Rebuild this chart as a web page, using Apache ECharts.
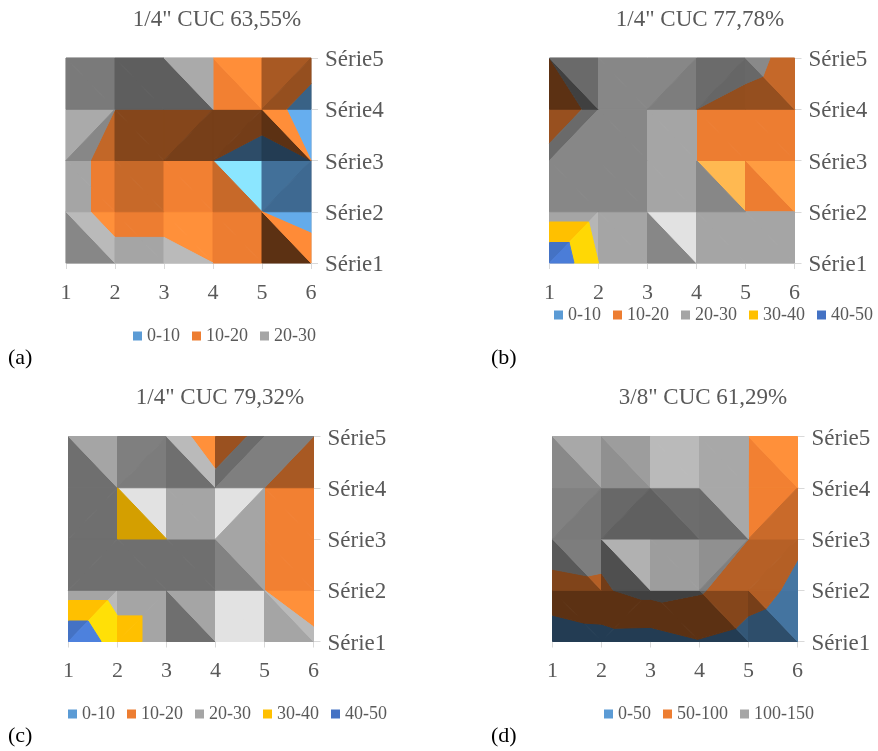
<!DOCTYPE html>
<html>
<head>
<meta charset="utf-8">
<style>
html, body { margin: 0; padding: 0; background: #fff; }
#chart { width: 878px; height: 751px; }
</style>
<script src="https://cdn.jsdelivr.net/npm/echarts@6/dist/echarts.min.js"></script>
</head>
<body>
<div id="chart"></div>
<script>
var xTicks = ['1', '2', '3', '4', '5', '6'];
var serieLabels = ['Série1', 'Série2', 'Série3', 'Série4', 'Série5'];

// valores, uma linha por série (Série1 primeiro)
var zA = [
    [25, 25, 25, 20, 15, 17],
    [25, 15, 15, 15, 10, 5],
    [25, 15, 15, 10, 5, 10],
    [25, 20, 20, 20, 15, 5],
    [25, 25, 25, 20, 15, 15]
];
var zB = [
    [50, 30, 25, 25, 25, 25],
    [25, 25, 25, 25, 20, 20],
    [25, 25, 25, 20, 15, 15],
    [10, 25, 25, 20, 15, 11],
    [20, 25, 25, 25, 25, 15]
];
var zC = [
    [50, 35, 25, 25, 25, 22],
    [25, 25, 25, 25, 20, 15],
    [25, 30, 30, 25, 20, 15],
    [25, 30, 25, 25, 20, 15],
    [25, 25, 29, 11, 25, 20]
];
var zD = [
    [7, 27, 25, 47, 31, 16],
    [91, 95, 116, 105, 69, 40],
    [113, 110, 120, 120, 100, 57],
    [125, 125, 125, 120, 99.9, 100],
    [125, 125, 125, 120, 100, 75]
];

var bandsA = ['0-10', '10-20', '20-30'];
var bandsB = ['0-10', '10-20', '20-30', '30-40', '40-50'];
var bandsC = ['0-10', '10-20', '20-30', '30-40', '40-50'];
var bandsD = ['0-50', '50-100', '100-150'];

// diagonal de cada celula: 0 = "\", 1 = "/"
var diagA = [[0, 0, 0, 0, 0], [0, 0, 0, 0, 1], [1, 0, 1, 1, 0], [0, 0, 0, 0, 1]];
var diagB = [[1, 0, 0, 0, 0], [0, 0, 0, 0, 0], [1, 0, 0, 0, 0], [0, 0, 1, 1, 0]];
var diagC = [[1, 1, 0, 0, 0], [1, 0, 0, 0, 0], [1, 0, 0, 1, 0], [0, 1, 0, 1, 1]];
var diagD = [[0, 1, 0, 0, 0], [0, 0, 0, 1, 1], [1, 1, 0, 0, 1], [0, 0, 0, 0, 0]];

// luz de cada triangulo da celula (o Excel sombreia cada face)
var lightA = [
    [[.82, 1.13], [1, 1], [1.13, 1.13], [1, 1], [.39, 1.1]],
    [[1, 1], [.84, .84], [1.02, 1.02], [.84, 1.42], [.72, .68]],
    [[1.03, .82], [.56, .56], [.56, .5], [.5, .49], [.39, 1.12]],
    [[.74, .74], [.57, .57], [.57, 1.03], [1.02, 1.12], [.71, .63]]
];
var lightB = [
    [[1, 1.1], [1, 1], [.82, 1.37], [1, 1], [1, 1]],
    [[.82, .82], [.82, .82], [1, 1], [.82, 1.37], [1, 1.2]],
    [[.64, .82], [.82, .82], [1, 1], [1, 1], [1, 1]],
    [[.39, .64], [.82, .82], [.82, .76], [.65, .62], [.63, .83]]
];
var lightC = [
    [[1, 1.13], [1, 1], [.67, 1], [1.37, 1.37], [1, 1.13]],
    [[.67, .67], [.67, .67], [.67, .67], [.79, 1], [1.02, 1.02]],
    [[.67, .67], [.83, 1.37], [1, 1], [1.37, 1], [1.02, 1.02]],
    [[.67, 1], [.77, .75], [.67, 1.13], [.65, .77], [.77, .71]]
];
var lightD = [
    [[.39, .39], [.39, .39], [.39, .39], [.39, .56], [.5, .75]],
    [[.54, .76], [.48, 1.07], [.95, .95], [.87, .77], [.77, .76]],
    [[.78, .74], [.63, .58], [.58, .66], [.65, 1.02], [1.02, .85]],
    [[.83, 1.02], [.87, .95], [1.13, 1.13], [1.02, 1.02], [1.02, 1.13]]
];

var bandColors = {
    '0-10': '#5B9BD5', '10-20': '#ED7D31', '20-30': '#A5A5A5', '30-40': '#FFC000', '40-50': '#4472C4',
    '0-50': '#5B9BD5', '50-100': '#ED7D31', '100-150': '#A5A5A5'
};

var panels = [
    { title: '1/4" CUC 63,55%', tag: '(a)', z: zA, bands: bandsA, diag: diagA, light: lightA,
      left: 66, top: 58, titleX: 217, titleY: 8, tagX: 8, tagY: 347, legendX: 133, legendY: 327 },
    { title: '1/4" CUC 77,78%', tag: '(b)', z: zB, bands: bandsB, diag: diagB, light: lightB,
      left: 549.5, top: 58, titleX: 700, titleY: 8, tagX: 491, tagY: 347, legendX: 554, legendY: 306 },
    { title: '1/4" CUC 79,32%', tag: '(c)', z: zC, bands: bandsC, diag: diagC, light: lightC,
      left: 68.5, top: 436.5, titleX: 220, titleY: 386, tagX: 8, tagY: 725, legendX: 68, legendY: 705 },
    { title: '3/8" CUC 61,29%', tag: '(d)', z: zD, bands: bandsD, diag: diagD, light: lightD,
      left: 552.5, top: 436.5, titleX: 703, titleY: 386, tagX: 491, tagY: 725, legendX: 604, legendY: 705 }
];

var plotW = 245, plotH = 205;
var fontName = '"Liberation Serif", "Times New Roman", serif';
var textColor = '#595959';

function clipBelow(poly, limit, sign) {
    // corta o poligono em z = limit, fica o lado sign*(z-limit) >= 0
    var out = [];
    for (var i = 0; i < poly.length; i++) {
        var p = poly[i], q = poly[(i + 1) % poly.length];
        var dp = sign * (p[2] - limit), dq = sign * (q[2] - limit);
        if (dp >= 0) out.push(p);
        if ((dp > 0 && dq < 0) || (dp < 0 && dq > 0)) {
            var t = dp / (dp - dq);
            out.push([p[0] + (q[0] - p[0]) * t, p[1] + (q[1] - p[1]) * t, limit]);
        }
    }
    return out;
}

function polyArea(poly) {
    var a = 0;
    for (var i = 0; i < poly.length; i++) {
        var p = poly[i], q = poly[(i + 1) % poly.length];
        a += p[0] * q[1] - q[0] * p[1];
    }
    return Math.abs(a) / 2;
}

function cellTriangles(panel) {
    var list = [];
    var z = panel.z;
    function pt(c, r) { return [c + 1, r + 1, z[r][c]]; }
    for (var r = 0; r < 4; r++) {
        for (var c = 0; c < 5; c++) {
            var l = panel.light[r][c];
            if (panel.diag[r][c] === 0) {
                list.push({ pts: [pt(c, r + 1), pt(c, r), pt(c + 1, r)], light: l[0] });
                list.push({ pts: [pt(c, r + 1), pt(c + 1, r + 1), pt(c + 1, r)], light: l[1] });
            } else {
                list.push({ pts: [pt(c, r), pt(c, r + 1), pt(c + 1, r + 1)], light: l[0] });
                list.push({ pts: [pt(c, r), pt(c + 1, r), pt(c + 1, r + 1)], light: l[1] });
            }
        }
    }
    return list;
}

function bandPieces(triangles, band) {
    var lim = band.split('-').map(Number);
    var pieces = [];
    triangles.forEach(function(tri) {
        var a = tri.pts[0][2], b = tri.pts[1][2], c = tri.pts[2][2];
        if (a === b && b === c) {
            // face plana em cima do limite fica na faixa de cima
            if (a >= lim[0] && a < lim[1]) pieces.push({ poly: tri.pts, light: tri.light });
            return;
        }
        var poly = clipBelow(clipBelow(tri.pts, lim[0], 1), lim[1], -1);
        if (poly.length > 2 && polyArea(poly) > 1e-4) pieces.push({ poly: poly, light: tri.light });
    });
    return pieces;
}

function shade(hex, f) {
    var rgb = [1, 3, 5].map(function(i) { return parseInt(hex.substr(i, 2), 16) * f; });
    // o que passa de 255 clareia um pouco os outros canais
    var extra = Math.max(0, Math.max.apply(null, rgb) - 255) * 0.2;
    return 'rgb(' + rgb.map(function(v) { return Math.min(255, Math.round(v + extra)); }).join(',') + ')';
}

var titles = [], legends = [], grids = [], xAxes = [], yAxes = [], seriesList = [];

panels.forEach(function(panel, idx) {
    titles.push({
        text: panel.title, left: panel.titleX, top: panel.titleY, textAlign: 'center', padding: 0,
        textStyle: { fontFamily: fontName, fontSize: 23, fontWeight: 'normal', color: textColor }
    });
    titles.push({
        text: panel.tag, left: panel.tagX, top: panel.tagY, padding: 0,
        textStyle: { fontFamily: fontName, fontSize: 22, fontWeight: 'normal', color: '#000' }
    });
    legends.push({
        data: panel.bands, left: panel.legendX, top: panel.legendY, padding: 0, icon: 'rect',
        itemWidth: 9, itemHeight: 9, itemGap: 12, selectedMode: false,
        textStyle: { fontFamily: fontName, fontSize: 18, color: textColor }
    });
    grids.push({
        left: panel.left, top: panel.top, width: plotW, height: plotH,
        show: true, borderColor: '#D9D9D9', borderWidth: 1, backgroundColor: 'transparent'
    });
    xAxes.push({
        type: 'value', gridIndex: idx, min: 1, max: 6, interval: 1,
        splitLine: { show: false },
        axisLine: { show: true, onZero: false, lineStyle: { color: '#D9D9D9' } },
        axisTick: { show: true, length: 6, lineStyle: { color: '#D9D9D9' } },
        axisLabel: {
            margin: 19, fontFamily: fontName, fontSize: 22, color: textColor,
            formatter: function(v) { return xTicks[v - 1]; }
        }
    });
    yAxes.push({
        type: 'value', gridIndex: idx, position: 'right', min: 1, max: 5, interval: 1,
        splitLine: { show: false },
        axisLine: { show: true, onZero: false, lineStyle: { color: '#D9D9D9' } },
        axisTick: { show: true, length: 7, lineStyle: { color: '#D9D9D9' } },
        axisLabel: {
            margin: 14,
            formatter: function(v) { return '{s|' + serieLabels[v - 1] + '}'; },
            rich: { s: { fontFamily: fontName, fontSize: 23, color: textColor, padding: [4, 0, 0, 0] } }
        }
    });
    var triangles = cellTriangles(panel);
    panel.bands.forEach(function(band) {
        var pieces = bandPieces(triangles, band);
        seriesList.push({
            type: 'custom',
            name: band,
            xAxisIndex: idx,
            yAxisIndex: idx,
            silent: true,
            clip: false,
            animation: false,
            itemStyle: { color: bandColors[band] },
            encode: { x: 0, y: 1 },
            data: pieces.map(function(piece) { return [piece.poly[0][0], piece.poly[0][1]]; }),
            renderItem: function(params, api) {
                var piece = pieces[params.dataIndex];
                var color = shade(bandColors[band], piece.light);
                return {
                    type: 'polygon',
                    shape: { points: piece.poly.map(function(p) { return api.coord([p[0], p[1]]); }) },
                    style: { fill: color, stroke: color, lineWidth: 1 }
                };
            }
        });
    });
});

var chart = echarts.init(document.getElementById('chart'));
chart.setOption({
    animation: false,
    backgroundColor: '#fff',
    title: titles,
    legend: legends,
    grid: grids,
    xAxis: xAxes,
    yAxis: yAxes,
    series: seriesList
});
</script>
</body>
</html>
